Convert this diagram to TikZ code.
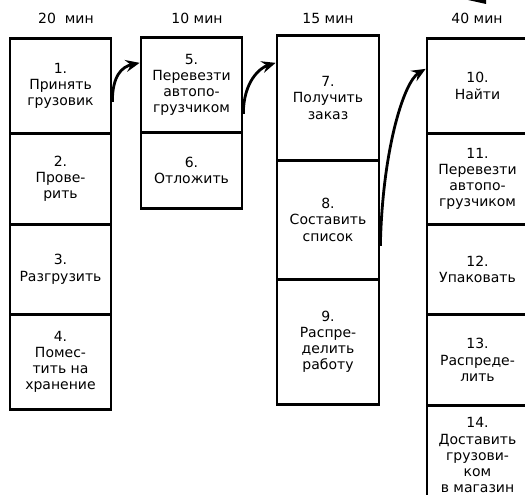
\documentclass[tikz,border=0pt]{standalone}
\usepackage{fontspec}
\setmainfont{DejaVu Sans}
\usetikzlibrary{arrows.meta}
\begin{document}
\begin{tikzpicture}[x=1pt,y=-1pt,
  cell/.style={draw, line width=2.7pt, minimum width=101pt, inner sep=0pt,
    align=center, anchor=north, font=\fontsize{14}{16.2}\selectfont},
  head/.style={font=\fontsize{14}{16}\selectfont},
  flow/.style={line width=2.8pt, -{Stealth[length=14pt,width=12pt,inset=5pt]}}]
\useasboundingbox (0,0) rectangle (525,495);

% column headers
\node[head] (h1) at (66,18) {20\ \ мин};
\node[head] (h2) at (197,18) {10 мин};
\node[head] (h3) at (328,18) {15 мин};
\node[head] (h4) at (477,18) {40 мин};

% column 1
\node[cell, minimum height=95pt] (n1) at (60.5,37) {1.\\Принять\\грузовик};
\node[cell, minimum height=91pt] (n2) at (60.5,132) {2.\\Прове-\\рить};
\node[cell, minimum height=90pt] (n3) at (60.5,223) {3.\\Разгрузить};
\node[cell, minimum height=95pt] (n4) at (60.5,313) {4.\\Помес-\\тить на\\хранение};

% column 2
\node[cell, minimum height=95pt] (n5) at (191.5,36) {5.\\Перевезти\\автопо-\\грузчиком};
\node[cell, minimum height=76pt] (n6) at (191.5,131) {6.\\Отложить};

% column 3
\node[cell, minimum width=102pt, minimum height=125pt] (n7) at (328,34) {7.\\Получить\\заказ};
\node[cell, minimum width=102pt, minimum height=119pt] (n8) at (328,159) {8.\\Составить\\список};
\node[cell, minimum width=102pt, minimum height=125pt] (n9) at (328,278) {9.\\Распре-\\делить\\работу};

% column 4
\node[cell, minimum height=95pt] (n10) at (477.5,37) {10.\\Найти};
\node[cell, minimum height=91pt] (n11) at (477.5,132) {11.\\Перевезти\\автопо-\\грузчиком};
\node[cell, minimum height=90pt] (n12) at (477.5,223) {12.\\Упаковать};
\node[cell, minimum height=91pt] (n13) at (477.5,313) {13.\\Распреде-\\лить};
\node[cell, minimum height=100pt] (n14) at (477.5,404) {14.\\Доставить\\грузови-\\ком\\в магазин};

% hand-offs between columns
\coordinate (a1) at ([yshift=-16pt]n1.east);
\coordinate (b1) at ([yshift=22pt]n5.west);
\draw[flow] (a1) .. controls ([yshift=26pt]a1) and ([xshift=-18pt,yshift=-4pt]b1) .. (b1);

\coordinate (a2) at ([yshift=-29pt]n5.east);
\coordinate (b2) at ([yshift=35pt]n7.west);
\draw[flow] (a2) .. controls ([yshift=32pt]a2) and ([xshift=-16pt,yshift=-5pt]b2) .. (b2);

\coordinate (a3) at ([yshift=-26pt]n8.east);
\coordinate (b3) at ([yshift=17pt]n10.west);
\draw[flow] (a3) .. controls ([xshift=2pt,yshift=95pt]a3) and ([xshift=-22pt,yshift=-13pt]b3) .. (b3);

% stray stroke at the top edge
\fill (468,0) -- (486,0) -- (486,4) -- cycle;
\end{tikzpicture}
\end{document}
